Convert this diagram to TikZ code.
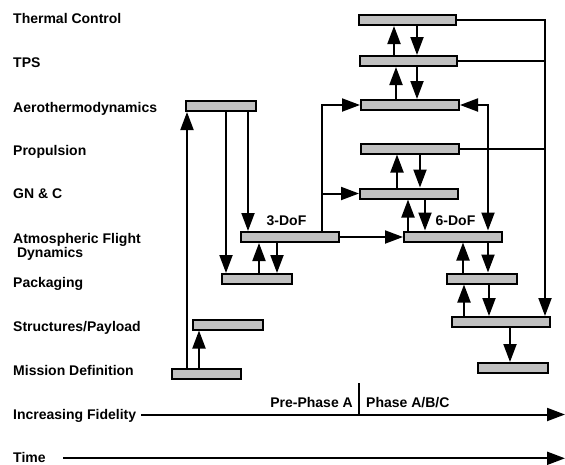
\documentclass[tikz,border=0pt]{standalone}
\usepackage{fontspec}
\setmainfont{Liberation Sans}
\usetikzlibrary{arrows.meta}
\definecolor{boxgray}{RGB}{192,192,192}
\begin{document}
\begin{tikzpicture}[x=1pt,y=-1pt,
  box/.style={draw, fill=boxgray, line width=2pt, minimum height=10pt, inner sep=0pt},
  arr/.style={line width=2pt, line join=miter, -{Triangle[length=18pt,width=13pt]}},
  darr/.style={line width=2pt, line join=miter, {Triangle[length=18pt,width=13pt]}-{Triangle[length=18pt,width=13pt]}},
  ln/.style={line width=2pt, line join=miter},
  lab/.style={anchor=base west, inner sep=0pt, font=\fontsize{14}{14}\selectfont\bfseries},
  tag/.style={inner sep=0pt, font=\fontsize{14}{14}\selectfont\bfseries}]
\useasboundingbox (0,0) rectangle (565,464);

% row labels
\node[lab] (lTC) at (13,23) {Thermal Control};
\node[lab] (lTPS) at (13,67) {TPS};
\node[lab] (lAero) at (13,112) {Aerothermodynamics};
\node[lab] (lProp) at (13,155) {Propulsion};
\node[lab] (lGNC) at (13,198) {GN \& C};
\node[lab] (lAtm1) at (13,243) {Atmospheric Flight};
\node[lab] (lAtm2) at (13,257) {\hspace{3.9pt}Dynamics};
\node[lab] (lPack) at (13,287) {Packaging};
\node[lab] (lStr) at (13,331) {Structures/Payload};
\node[lab] (lMis) at (13,375) {Mission Definition};
\node[lab] (lFid) at (13,419) {Increasing Fidelity};
\node[lab] (lTime) at (13,462.5) {Time};

% boxes: left column
\node[box, minimum width=70pt] (aero1) at (221,106) {};
\node[box, minimum width=98pt] (three) at (290,237) {};
\node[box, minimum width=70pt] (pack1) at (257,279) {};
\node[box, minimum width=70pt] (struct1) at (228,324.5) {};
\node[box, minimum width=69pt] (miss1) at (206.5,373.5) {};
% boxes: right column
\node[box, minimum width=97pt] (tc) at (407.5,20) {};
\node[box, minimum width=97pt] (tps) at (408.5,61) {};
\node[box, minimum width=98pt] (aero2) at (410,105) {};
\node[box, minimum width=98pt] (prop) at (410,148.5) {};
\node[box, minimum width=98pt] (gnc) at (409,193.5) {};
\node[box, minimum width=98pt] (six) at (453,236.5) {};
\node[box, minimum width=70pt] (pack2) at (482,278.5) {};
\node[box, minimum width=98pt] (struct2) at (501,322) {};
\node[box, minimum width=70pt] (miss2) at (513,368) {};

\node[tag, anchor=base] (t3) at (286.5,225) {3-DoF};
\node[tag, anchor=base] (t6) at (455.5,225) {6-DoF};

% left-side connectors
\draw[arr] (miss1.north -| 187,0) -- (aero1.south -| 187,0);
\draw[arr] (miss1.north -| 199,0) -- (struct1.south -| 199,0);
\draw[arr] (aero1.south -| 226,0) -- (pack1.north -| 226,0);
\draw[arr] (aero1.south -| 248,0) -- (three.north -| 248,0);
\draw[arr] (pack1.north -| 259,0) -- (three.south -| 259,0);
\draw[arr] (three.south -| 277,0) -- (pack1.north -| 277,0);
\draw[arr] (three.north -| 322,0) |- (aero2.west);
\draw[arr] (three.north -| 322,0) |- (gnc.west);
\draw[arr] (three.east) -- (three.east -| six.west);

% right-side stack
\draw[arr] (tps.north -| 394,0) -- (tc.south -| 394,0);
\draw[arr] (tc.south -| 417,0) -- (tps.north -| 417,0);
\draw[arr] (aero2.north -| 396,0) -- (tps.south -| 396,0);
\draw[arr] (tps.south -| 417,0) -- (aero2.north -| 417,0);
\draw[arr] (gnc.north -| 397,0) -- (prop.south -| 397,0);
\draw[arr] (prop.south -| 420,0) -- (gnc.north -| 420,0);
\draw[arr] (six.north -| 408,0) -- (gnc.south -| 408,0);
\draw[arr] (gnc.south -| 425,0) -- (six.north -| 425,0);
\draw[arr] (pack2.north -| 463,0) -- (six.south -| 463,0);
\draw[arr] (six.south -| 488,0) -- (pack2.north -| 488,0);
\draw[arr] (struct2.north -| 464,0) -- (pack2.south -| 464,0);
\draw[arr] (pack2.south -| 489,0) -- (struct2.north -| 489,0);
\draw[arr] (struct2.south -| 510,0) -- (miss2.north -| 510,0);
\draw[darr] (aero2.east) -| (six.north -| 488,0);

% right bus
\coordinate (bus) at (545,20);
\draw[arr] (tc.east) -- (bus) -- (struct2.north -| bus);
\draw[ln] (tps.east) -- (tps.east -| bus);
\draw[ln] (prop.east) -- (prop.east -| bus);

% axes
\coordinate (fidstart) at (141,414.5);
\coordinate (fidend) at (565,414.5);
\coordinate (timestart) at (63,458.3);
\coordinate (timeend) at (565,458.3);
\draw[arr] (fidstart) -- (fidend);
\draw[arr] (timestart) -- (timeend);
\coordinate (divtop) at (359,383);
\draw[line width=1.6pt] (divtop) -- (divtop |- fidstart);
\node[tag, anchor=base east] (pre) at (353,407) {Pre-Phase A};
\node[tag, anchor=base west] (post) at (366,407) {Phase A/B/C};
\end{tikzpicture}
\end{document}
